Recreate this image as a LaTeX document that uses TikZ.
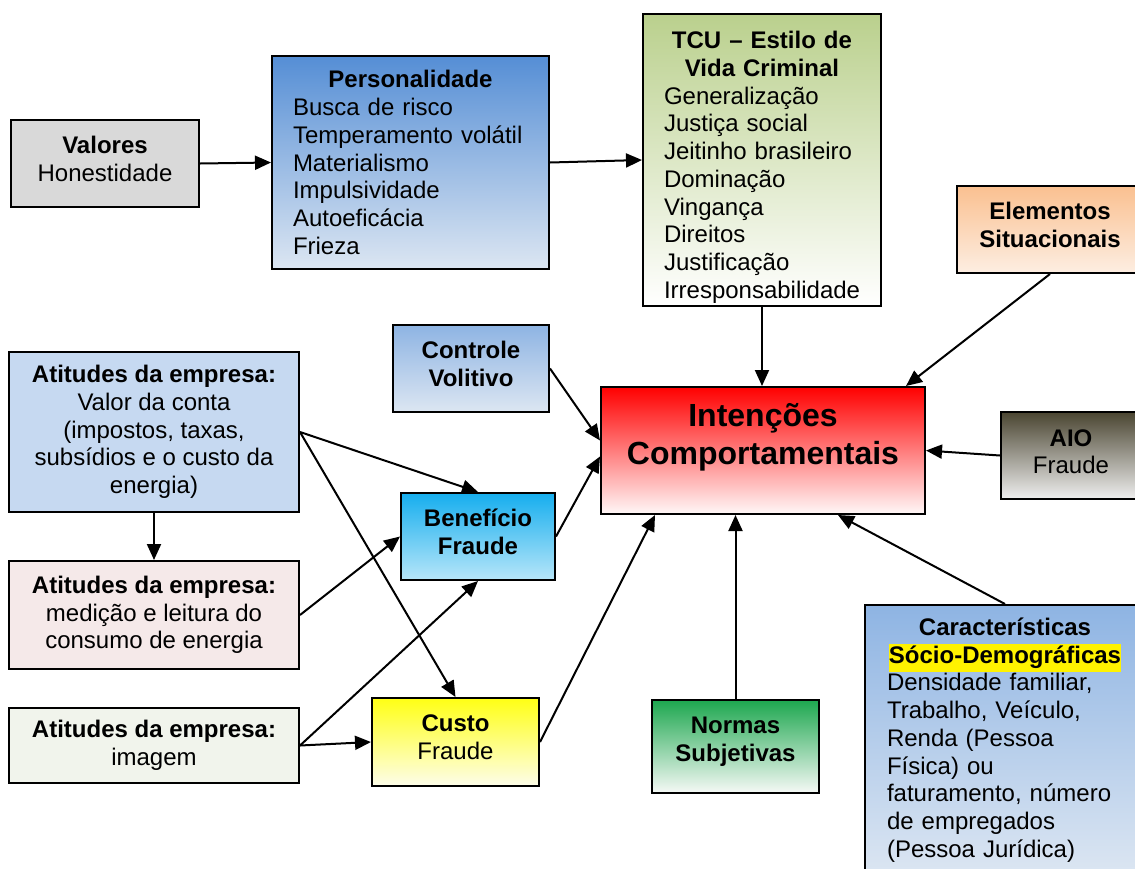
\documentclass[tikz,border=0pt]{standalone}
\usepackage{fontspec}
\setmainfont{Liberation Sans}
\usetikzlibrary{arrows.meta,calc}

\newcommand\bodyfs{\fontsize{12}{13.85}\selectfont}
\setlength{\fboxsep}{0pt}

\definecolor{valgray}{HTML}{D9D9D9}
\definecolor{persTop}{HTML}{558ED5}
\definecolor{paleBlue}{HTML}{DCE6F2}
\definecolor{tcuTop}{HTML}{BAD08D}
\definecolor{eleTop}{HTML}{FAC090}
\definecolor{eleBot}{HTML}{FDEEE2}
\definecolor{ctlTop}{HTML}{8EB4E3}
\definecolor{contaFill}{HTML}{C6D9F1}
\definecolor{medFill}{HTML}{F5E9E9}
\definecolor{imgFill}{HTML}{F1F4EC}
\definecolor{benTop}{HTML}{16AEEE}
\definecolor{benBot}{HTML}{B7E6F9}
\definecolor{cusTop}{HTML}{FFFF14}
\definecolor{cusBot}{HTML}{FDFDEA}
\definecolor{aioTop}{HTML}{4A4531}
\definecolor{aioBot}{HTML}{EFEFEF}
\definecolor{norTop}{HTML}{1DA74F}
\definecolor{norBot}{HTML}{F6F9F6}
\definecolor{intBot}{HTML}{FFF8F8}

\begin{document}
\begin{tikzpicture}[x=0.5pt,y=-0.5pt,
  box/.style={draw=black, line width=1pt, inner sep=0pt, align=center, font=\bodyfs},
  conn/.style={line width=1pt, -{Triangle[length=8pt,width=7pt]}},
]
\useasboundingbox (0,0) rectangle (1135,868);

% upper chain
\node[box, fill=valgray, minimum width=94pt, minimum height=43.5pt, text depth=5pt] (val) at (105,163.5)
  {\textbf{Valores}\\Honestidade};
\node[box, top color=persTop, bottom color=paleBlue, minimum width=138.5pt, minimum height=106.5pt,
      text width=117.5pt, align=left] (pers) at (410.5,162.5)
  {{\centering\bfseries Personalidade\par}Busca de risco\\Temperamento volátil\\Materialismo\\Impulsividade\\Autoeficácia\\Frieza};
\node[box, top color=tcuTop, bottom color=white, minimum width=119pt, minimum height=146pt,
      text width=98pt, align=left] (tcu) at (762,160)
  {{\centering\bfseries\rule{0pt}{16pt}TCU – Estilo de\\Vida Criminal\par}Generalização\\Justiça social\\Jeitinho brasileiro\\Dominação\\Vingança\\Direitos\\Justificação\\Irresponsabilidade};
\node[box, top color=eleTop, bottom color=eleBot, minimum width=93pt, minimum height=43.5pt, text depth=5pt] (ele) at (1050,229.5)
  {\textbf{Elementos}\\\textbf{Situacionais}};

% central construct
\node[box, top color=red, bottom color=intBot, minimum width=162pt, minimum height=63.5pt,
      font=\fontsize{16}{19}\selectfont\bfseries, text depth=17pt] (int) at (763,450.5)
  {Intenções\\Comportamentais};

\node[box, top color=ctlTop, bottom color=paleBlue, minimum width=78pt, minimum height=43.5pt, text depth=5pt] (ctl) at (471,368.5)
  {\textbf{Controle}\\\textbf{Volitivo}};
\node[box, top color=aioTop, bottom color=aioBot, minimum width=70pt, minimum height=43.5pt, text depth=4pt] (aio) at (1071,455.5)
  {\textbf{AIO}\\Fraude};

% company attitudes
\node[box, fill=contaFill, minimum width=145pt, minimum height=80pt] (a1) at (154,432)
  {\textbf{Atitudes da empresa:}\\Valor da conta\\(impostos, taxas,\\subsídios e o custo da\\energia)};
\node[box, fill=medFill, minimum width=145pt, minimum height=54pt] (a2) at (154,615)
  {\textbf{Atitudes da empresa:}\\medição e leitura do\\consumo de energia};
\node[box, fill=imgFill, minimum width=145pt, minimum height=37.5pt] (a3) at (154,745.5)
  {\textbf{Atitudes da empresa:}\\imagem};

\node[box, top color=benTop, bottom color=benBot, minimum width=77pt, minimum height=43.5pt, text depth=5pt] (ben) at (478,536.5)
  {\textbf{Benefício}\\\textbf{Fraude}};
\node[box, top color=cusTop, bottom color=cusBot, minimum width=83.5pt, minimum height=44pt, text depth=5pt] (cus) at (455.5,742)
  {\textbf{Custo}\\Fraude};
\node[box, top color=norTop, bottom color=norBot, minimum width=83.5pt, minimum height=46.5pt, text depth=7pt] (nor) at (735.5,746.5)
  {\textbf{Normas}\\\textbf{Subjetivas}};

\node[box, top color=ctlTop, bottom color=paleBlue, minimum width=140pt, minimum height=135pt,
      text width=118pt, align=left] (car) at (1005,740)
  {{\centering\bfseries Características\\\colorbox{yellow}{\strut Sócio-Demográficas}\par}Densidade familiar,\\Trabalho, Veículo,\\Renda (Pessoa\\Física) ou\\faturamento, número\\de empregados\\(Pessoa Jurídica)};

% connectors
\draw[conn] (val.east) -- (pers.west);
\draw[conn] (pers.east) -- (tcu.west);
\draw[conn] (tcu.south) -- (tcu.south |- int.north);
\draw[conn] (ele.south) -- ($(int.north east)+(-20,0)$);
\draw[conn] (aio.west) -- (int.east);
\draw[conn] (car.north) -- ($(int.south)+(75,0)$);
\draw[conn] (nor.north) -- (nor.north |- int.south);
\draw[conn] (cus.east) -- ($(int.south west)+(55,0)$);
\draw[conn] (ben.east) -- ($(int.west)+(0,6)$);
\draw[conn] (ctl.east) -- ($(int.west)+(0,-10)$);
\draw[conn] (a1.east) -- (ben.north);
\draw[conn] (a1.east) -- (cus.north);
\draw[conn] (a1.south) -- (a2.north);
\draw[conn] (a2.east) -- (ben.west);
\draw[conn] (a3.east) -- (ben.south);
\draw[conn] (a3.east) -- (cus.west);
\end{tikzpicture}
\end{document}
